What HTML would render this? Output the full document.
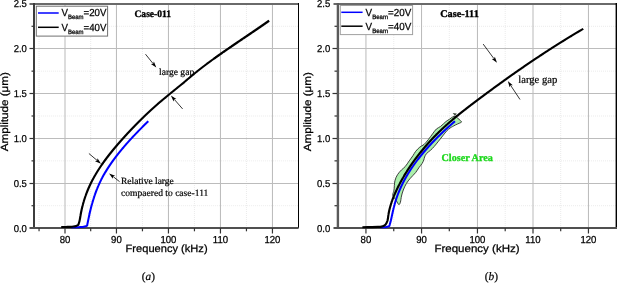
<!DOCTYPE html>
<html><head><meta charset="utf-8"><style>
html,body{margin:0;padding:0;background:#fff;width:617px;height:283px;overflow:hidden}
svg{display:block;will-change:transform;text-rendering:geometricPrecision}
</style></head><body>
<svg width="617" height="283" viewBox="0 0 617 283">
<rect width="617" height="283" fill="#fff"/>
<line x1="39.05" y1="5" x2="39.05" y2="227" stroke="#ebebeb" stroke-width="1" stroke-dasharray="1,1"/>
<line x1="90.70" y1="5" x2="90.70" y2="227" stroke="#ebebeb" stroke-width="1" stroke-dasharray="1,1"/>
<line x1="142.45" y1="5" x2="142.45" y2="227" stroke="#ebebeb" stroke-width="1" stroke-dasharray="1,1"/>
<line x1="194.45" y1="5" x2="194.45" y2="227" stroke="#ebebeb" stroke-width="1" stroke-dasharray="1,1"/>
<line x1="246.45" y1="5" x2="246.45" y2="227" stroke="#ebebeb" stroke-width="1" stroke-dasharray="1,1"/>
<line x1="34.9" y1="205.71" x2="298.6" y2="205.71" stroke="#ebebeb" stroke-width="1" stroke-dasharray="1,1"/>
<line x1="34.9" y1="160.86" x2="298.6" y2="160.86" stroke="#ebebeb" stroke-width="1" stroke-dasharray="1,1"/>
<line x1="34.9" y1="116.00" x2="298.6" y2="116.00" stroke="#ebebeb" stroke-width="1" stroke-dasharray="1,1"/>
<line x1="34.9" y1="71.15" x2="298.6" y2="71.15" stroke="#ebebeb" stroke-width="1" stroke-dasharray="1,1"/>
<line x1="34.9" y1="26.29" x2="298.6" y2="26.29" stroke="#ebebeb" stroke-width="1" stroke-dasharray="1,1"/>
<line x1="65.00" y1="5" x2="65.00" y2="227" stroke="#b9b9b9" stroke-width="1"/>
<line x1="116.45" y1="5" x2="116.45" y2="227" stroke="#b9b9b9" stroke-width="1"/>
<line x1="168.45" y1="5" x2="168.45" y2="227" stroke="#b9b9b9" stroke-width="1"/>
<line x1="220.45" y1="5" x2="220.45" y2="227" stroke="#b9b9b9" stroke-width="1"/>
<line x1="272.45" y1="5" x2="272.45" y2="227" stroke="#b9b9b9" stroke-width="1"/>
<line x1="33.9" y1="183.50" x2="298.6" y2="183.50" stroke="#bcbcbc" stroke-width="1"/>
<line x1="33.9" y1="138.50" x2="298.6" y2="138.50" stroke="#bcbcbc" stroke-width="1"/>
<line x1="33.9" y1="93.50" x2="298.6" y2="93.50" stroke="#bcbcbc" stroke-width="1"/>
<line x1="33.9" y1="48.50" x2="298.6" y2="48.50" stroke="#bcbcbc" stroke-width="1"/>
<line x1="29.5" y1="4" x2="298.6" y2="4" stroke="#6a6a6a" stroke-width="2"/>
<line x1="298.5" y1="3" x2="298.5" y2="228" stroke="#000" stroke-width="1"/>
<line x1="34" y1="3" x2="34" y2="229" stroke="#3c3c3c" stroke-width="2"/>
<line x1="29.5" y1="228" x2="298.6" y2="228" stroke="#505050" stroke-width="2"/>
<line x1="31.5" y1="205.71" x2="34" y2="205.71" stroke="#333" stroke-width="1.2"/>
<line x1="29.5" y1="183.50" x2="34" y2="183.50" stroke="#333" stroke-width="1.2"/>
<line x1="31.5" y1="160.86" x2="34" y2="160.86" stroke="#333" stroke-width="1.2"/>
<line x1="29.5" y1="138.50" x2="34" y2="138.50" stroke="#333" stroke-width="1.2"/>
<line x1="31.5" y1="116.00" x2="34" y2="116.00" stroke="#333" stroke-width="1.2"/>
<line x1="29.5" y1="93.50" x2="34" y2="93.50" stroke="#333" stroke-width="1.2"/>
<line x1="31.5" y1="71.15" x2="34" y2="71.15" stroke="#333" stroke-width="1.2"/>
<line x1="29.5" y1="48.50" x2="34" y2="48.50" stroke="#333" stroke-width="1.2"/>
<line x1="31.5" y1="26.29" x2="34" y2="26.29" stroke="#333" stroke-width="1.2"/>
<line x1="39.05" y1="228" x2="39.05" y2="231.3" stroke="#333" stroke-width="1.2"/>
<line x1="65.00" y1="228" x2="65.00" y2="233.5" stroke="#333" stroke-width="1.2"/>
<line x1="90.70" y1="228" x2="90.70" y2="231.3" stroke="#333" stroke-width="1.2"/>
<line x1="116.45" y1="228" x2="116.45" y2="233.5" stroke="#333" stroke-width="1.2"/>
<line x1="142.45" y1="228" x2="142.45" y2="231.3" stroke="#333" stroke-width="1.2"/>
<line x1="168.45" y1="228" x2="168.45" y2="233.5" stroke="#333" stroke-width="1.2"/>
<line x1="194.45" y1="228" x2="194.45" y2="231.3" stroke="#333" stroke-width="1.2"/>
<line x1="220.45" y1="228" x2="220.45" y2="233.5" stroke="#333" stroke-width="1.2"/>
<line x1="246.45" y1="228" x2="246.45" y2="231.3" stroke="#333" stroke-width="1.2"/>
<line x1="272.45" y1="228" x2="272.45" y2="233.5" stroke="#333" stroke-width="1.2"/>
<text transform="translate(26.90,231.64) scale(0.95,1)" x="0" y="0" text-anchor="end" style="font-family:'Liberation Sans',sans-serif;stroke:#000;stroke-width:0.25px;font-size:10.0px">0.0</text>
<text transform="translate(26.90,186.78) scale(0.95,1)" x="0" y="0" text-anchor="end" style="font-family:'Liberation Sans',sans-serif;stroke:#000;stroke-width:0.25px;font-size:10.0px">0.5</text>
<text transform="translate(26.90,141.93) scale(0.95,1)" x="0" y="0" text-anchor="end" style="font-family:'Liberation Sans',sans-serif;stroke:#000;stroke-width:0.25px;font-size:10.0px">1.0</text>
<text transform="translate(26.90,97.07) scale(0.95,1)" x="0" y="0" text-anchor="end" style="font-family:'Liberation Sans',sans-serif;stroke:#000;stroke-width:0.25px;font-size:10.0px">1.5</text>
<text transform="translate(26.90,52.22) scale(0.95,1)" x="0" y="0" text-anchor="end" style="font-family:'Liberation Sans',sans-serif;stroke:#000;stroke-width:0.25px;font-size:10.0px">2.0</text>
<text transform="translate(26.90,7.37) scale(0.95,1)" x="0" y="0" text-anchor="end" style="font-family:'Liberation Sans',sans-serif;stroke:#000;stroke-width:0.25px;font-size:10.0px">2.5</text>
<text transform="translate(65.00,242.9) scale(0.95,1)" x="0" y="0" text-anchor="middle" style="font-family:'Liberation Sans',sans-serif;stroke:#000;stroke-width:0.25px;font-size:10.1px">80</text>
<text transform="translate(116.45,242.9) scale(0.95,1)" x="0" y="0" text-anchor="middle" style="font-family:'Liberation Sans',sans-serif;stroke:#000;stroke-width:0.25px;font-size:10.1px">90</text>
<text transform="translate(168.45,242.9) scale(0.95,1)" x="0" y="0" text-anchor="middle" style="font-family:'Liberation Sans',sans-serif;stroke:#000;stroke-width:0.25px;font-size:10.1px">100</text>
<text transform="translate(220.45,242.9) scale(0.95,1)" x="0" y="0" text-anchor="middle" style="font-family:'Liberation Sans',sans-serif;stroke:#000;stroke-width:0.25px;font-size:10.1px">110</text>
<text transform="translate(272.45,242.9) scale(0.95,1)" x="0" y="0" text-anchor="middle" style="font-family:'Liberation Sans',sans-serif;stroke:#000;stroke-width:0.25px;font-size:10.1px">120</text>
<line x1="393.75" y1="5" x2="393.75" y2="227" stroke="#ebebeb" stroke-width="1" stroke-dasharray="1,1"/>
<line x1="449.30" y1="5" x2="449.30" y2="227" stroke="#ebebeb" stroke-width="1" stroke-dasharray="1,1"/>
<line x1="505.20" y1="5" x2="505.20" y2="227" stroke="#ebebeb" stroke-width="1" stroke-dasharray="1,1"/>
<line x1="560.70" y1="5" x2="560.70" y2="227" stroke="#ebebeb" stroke-width="1" stroke-dasharray="1,1"/>
<line x1="339.0" y1="205.71" x2="616.3" y2="205.71" stroke="#ebebeb" stroke-width="1" stroke-dasharray="1,1"/>
<line x1="339.0" y1="160.86" x2="616.3" y2="160.86" stroke="#ebebeb" stroke-width="1" stroke-dasharray="1,1"/>
<line x1="339.0" y1="116.00" x2="616.3" y2="116.00" stroke="#ebebeb" stroke-width="1" stroke-dasharray="1,1"/>
<line x1="339.0" y1="71.15" x2="616.3" y2="71.15" stroke="#ebebeb" stroke-width="1" stroke-dasharray="1,1"/>
<line x1="339.0" y1="26.29" x2="616.3" y2="26.29" stroke="#ebebeb" stroke-width="1" stroke-dasharray="1,1"/>
<line x1="365.94" y1="5" x2="365.94" y2="227" stroke="#b9b9b9" stroke-width="1"/>
<line x1="421.55" y1="5" x2="421.55" y2="227" stroke="#b9b9b9" stroke-width="1"/>
<line x1="477.45" y1="5" x2="477.45" y2="227" stroke="#b9b9b9" stroke-width="1"/>
<line x1="533.00" y1="5" x2="533.00" y2="227" stroke="#b9b9b9" stroke-width="1"/>
<line x1="588.45" y1="5" x2="588.45" y2="227" stroke="#b9b9b9" stroke-width="1"/>
<line x1="338.0" y1="183.50" x2="616.3" y2="183.50" stroke="#bcbcbc" stroke-width="1"/>
<line x1="338.0" y1="138.50" x2="616.3" y2="138.50" stroke="#bcbcbc" stroke-width="1"/>
<line x1="338.0" y1="93.50" x2="616.3" y2="93.50" stroke="#bcbcbc" stroke-width="1"/>
<line x1="338.0" y1="48.50" x2="616.3" y2="48.50" stroke="#bcbcbc" stroke-width="1"/>
<line x1="333.5" y1="4" x2="617" y2="4" stroke="#6a6a6a" stroke-width="2"/>
<line x1="616.3" y1="3" x2="616.3" y2="228" stroke="#000" stroke-width="1.4"/>
<line x1="337.9" y1="3" x2="337.9" y2="229" stroke="#5a5a5a" stroke-width="2.4"/>
<line x1="333.5" y1="228" x2="617" y2="228" stroke="#505050" stroke-width="2"/>
<line x1="334.5" y1="205.71" x2="337" y2="205.71" stroke="#333" stroke-width="1.2"/>
<line x1="332.5" y1="183.50" x2="337" y2="183.50" stroke="#333" stroke-width="1.2"/>
<line x1="334.5" y1="160.86" x2="337" y2="160.86" stroke="#333" stroke-width="1.2"/>
<line x1="332.5" y1="138.50" x2="337" y2="138.50" stroke="#333" stroke-width="1.2"/>
<line x1="334.5" y1="116.00" x2="337" y2="116.00" stroke="#333" stroke-width="1.2"/>
<line x1="332.5" y1="93.50" x2="337" y2="93.50" stroke="#333" stroke-width="1.2"/>
<line x1="334.5" y1="71.15" x2="337" y2="71.15" stroke="#333" stroke-width="1.2"/>
<line x1="332.5" y1="48.50" x2="337" y2="48.50" stroke="#333" stroke-width="1.2"/>
<line x1="334.5" y1="26.29" x2="337" y2="26.29" stroke="#333" stroke-width="1.2"/>
<line x1="365.94" y1="228" x2="365.94" y2="233.5" stroke="#333" stroke-width="1.2"/>
<line x1="393.75" y1="228" x2="393.75" y2="231.3" stroke="#333" stroke-width="1.2"/>
<line x1="421.55" y1="228" x2="421.55" y2="233.5" stroke="#333" stroke-width="1.2"/>
<line x1="449.30" y1="228" x2="449.30" y2="231.3" stroke="#333" stroke-width="1.2"/>
<line x1="477.45" y1="228" x2="477.45" y2="233.5" stroke="#333" stroke-width="1.2"/>
<line x1="505.20" y1="228" x2="505.20" y2="231.3" stroke="#333" stroke-width="1.2"/>
<line x1="533.00" y1="228" x2="533.00" y2="233.5" stroke="#333" stroke-width="1.2"/>
<line x1="560.70" y1="228" x2="560.70" y2="231.3" stroke="#333" stroke-width="1.2"/>
<line x1="588.45" y1="228" x2="588.45" y2="233.5" stroke="#333" stroke-width="1.2"/>
<text transform="translate(330.30,231.64) scale(0.95,1)" x="0" y="0" text-anchor="end" style="font-family:'Liberation Sans',sans-serif;stroke:#000;stroke-width:0.25px;font-size:10.0px">0.0</text>
<text transform="translate(330.30,186.78) scale(0.95,1)" x="0" y="0" text-anchor="end" style="font-family:'Liberation Sans',sans-serif;stroke:#000;stroke-width:0.25px;font-size:10.0px">0.5</text>
<text transform="translate(330.30,141.93) scale(0.95,1)" x="0" y="0" text-anchor="end" style="font-family:'Liberation Sans',sans-serif;stroke:#000;stroke-width:0.25px;font-size:10.0px">1.0</text>
<text transform="translate(330.30,97.07) scale(0.95,1)" x="0" y="0" text-anchor="end" style="font-family:'Liberation Sans',sans-serif;stroke:#000;stroke-width:0.25px;font-size:10.0px">1.5</text>
<text transform="translate(330.30,52.22) scale(0.95,1)" x="0" y="0" text-anchor="end" style="font-family:'Liberation Sans',sans-serif;stroke:#000;stroke-width:0.25px;font-size:10.0px">2.0</text>
<text transform="translate(330.30,7.37) scale(0.95,1)" x="0" y="0" text-anchor="end" style="font-family:'Liberation Sans',sans-serif;stroke:#000;stroke-width:0.25px;font-size:10.0px">2.5</text>
<text transform="translate(365.94,242.9) scale(0.95,1)" x="0" y="0" text-anchor="middle" style="font-family:'Liberation Sans',sans-serif;stroke:#000;stroke-width:0.25px;font-size:10.1px">80</text>
<text transform="translate(421.55,242.9) scale(0.95,1)" x="0" y="0" text-anchor="middle" style="font-family:'Liberation Sans',sans-serif;stroke:#000;stroke-width:0.25px;font-size:10.1px">90</text>
<text transform="translate(477.45,242.9) scale(0.95,1)" x="0" y="0" text-anchor="middle" style="font-family:'Liberation Sans',sans-serif;stroke:#000;stroke-width:0.25px;font-size:10.1px">100</text>
<text transform="translate(533.00,242.9) scale(0.95,1)" x="0" y="0" text-anchor="middle" style="font-family:'Liberation Sans',sans-serif;stroke:#000;stroke-width:0.25px;font-size:10.1px">110</text>
<text transform="translate(588.45,242.9) scale(0.95,1)" x="0" y="0" text-anchor="middle" style="font-family:'Liberation Sans',sans-serif;stroke:#000;stroke-width:0.25px;font-size:10.1px">120</text>
<text x="166.60" y="252.10" text-anchor="middle" style="font-family:'Liberation Sans',sans-serif;stroke:#000;stroke-width:0.25px;font-size:10.5px" textLength="82" lengthAdjust="spacingAndGlyphs">Frequency (kHz)</text>
<text x="477.00" y="252.10" text-anchor="middle" style="font-family:'Liberation Sans',sans-serif;stroke:#000;stroke-width:0.25px;font-size:10.5px" textLength="85.2" lengthAdjust="spacingAndGlyphs">Frequency (kHz)</text>
<g transform="translate(8.2,111.7) rotate(-90)"><text x="0" y="0" text-anchor="middle" style="font-family:'Liberation Sans',sans-serif;stroke:#000;stroke-width:0.25px;font-size:10.5px" textLength="79" lengthAdjust="spacingAndGlyphs">Amplitude (μm)</text></g>
<g transform="translate(311.0,111.7) rotate(-90)"><text x="0" y="0" text-anchor="middle" style="font-family:'Liberation Sans',sans-serif;stroke:#000;stroke-width:0.25px;font-size:10.5px" textLength="79" lengthAdjust="spacingAndGlyphs">Amplitude (μm)</text></g>
<text x="148.40" y="280.30" text-anchor="middle" style="font-family:'Liberation Serif',serif;stroke:#000;stroke-width:0.2px;font-size:11.3px">(<tspan style="font-style:italic">a</tspan>)</text>
<text x="491.40" y="280.30" text-anchor="middle" style="font-family:'Liberation Serif',serif;stroke:#000;stroke-width:0.2px;font-size:11.4px">(<tspan style="font-style:italic">b</tspan>)</text>
<text x="134.50" y="16.70" text-anchor="start" style="font-family:'Liberation Serif',serif;stroke:#000;stroke-width:0.2px;font-size:10px;font-weight:bold;stroke-width:0.35px" textLength="36.5" lengthAdjust="spacingAndGlyphs">Case-011</text>
<text x="440.20" y="17.00" text-anchor="start" style="font-family:'Liberation Serif',serif;stroke:#000;stroke-width:0.2px;font-size:10.2px;font-weight:bold;stroke-width:0.35px" textLength="38.6" lengthAdjust="spacingAndGlyphs">Case-111</text>
<text x="159.00" y="74.80" text-anchor="start" style="font-family:'Liberation Serif',serif;stroke:#000;stroke-width:0.2px;font-size:9.5px" textLength="35.2" lengthAdjust="spacingAndGlyphs">large gap</text>
<text x="518.30" y="83.00" text-anchor="start" style="font-family:'Liberation Serif',serif;stroke:#000;stroke-width:0.2px;font-size:10.8px" textLength="39.0" lengthAdjust="spacingAndGlyphs">large gap</text>
<text x="121.00" y="183.50" text-anchor="start" style="font-family:'Liberation Serif',serif;stroke:#000;stroke-width:0.2px;font-size:9.6px" textLength="52.8" lengthAdjust="spacingAndGlyphs">Relative large</text>
<text x="121.00" y="195.50" text-anchor="start" style="font-family:'Liberation Serif',serif;stroke:#000;stroke-width:0.2px;font-size:9.6px" textLength="87.4" lengthAdjust="spacingAndGlyphs">compaered to case-111</text>
<text x="441.50" y="160.80" text-anchor="start" style="font-family:'Liberation Serif',serif;stroke:#000;stroke-width:0.2px;font-size:10.4px;font-weight:bold;fill:#1ed81e;stroke:#1ed81e;stroke-width:0.3px" textLength="51.4" lengthAdjust="spacingAndGlyphs">Closer Area</text>
<line x1="145.50" y1="54.20" x2="153.04" y2="63.55" stroke="#000" stroke-width="0.8"/>
<path d="M156.30,67.60 L150.93,63.97 L153.16,63.71 L153.89,61.58 Z" fill="#000"/>
<line x1="182.60" y1="108.90" x2="174.32" y2="99.42" stroke="#000" stroke-width="0.8"/>
<path d="M170.90,95.50 L176.41,98.92 L174.19,99.27 L173.55,101.42 Z" fill="#000"/>
<line x1="88.90" y1="153.50" x2="97.02" y2="160.35" stroke="#000" stroke-width="0.8"/>
<path d="M101.00,163.70 L95.03,161.16 L97.18,160.48 L97.48,158.25 Z" fill="#000"/>
<line x1="119.60" y1="181.70" x2="113.18" y2="176.62" stroke="#000" stroke-width="0.8"/>
<path d="M109.10,173.40 L115.14,175.75 L113.02,176.50 L112.79,178.74 Z" fill="#000"/>
<line x1="483.20" y1="44.10" x2="493.91" y2="58.62" stroke="#000" stroke-width="0.8"/>
<path d="M497.00,62.80 L491.79,58.94 L494.03,58.78 L494.85,56.68 Z" fill="#000"/>
<line x1="520.00" y1="99.50" x2="510.67" y2="85.43" stroke="#000" stroke-width="0.8"/>
<path d="M507.80,81.10 L512.81,85.22 L510.56,85.27 L509.64,87.32 Z" fill="#000"/>
<path d="M455.00,116.20 C455.85,116.40 456.83,117.50 457.70,118.20 C458.57,118.90 459.55,119.77 460.20,120.40 C460.85,121.03 461.78,121.52 461.60,122.00 C461.42,122.48 460.13,122.80 459.10,123.30 C458.07,123.80 456.50,124.45 455.40,125.00 C454.30,125.55 453.38,126.10 452.50,126.60 C451.62,127.10 451.02,127.33 450.10,128.00 C449.18,128.67 448.23,129.28 447.00,130.60 C445.77,131.92 444.12,134.13 442.70,135.90 C441.28,137.67 439.92,139.43 438.50,141.20 C437.08,142.97 435.52,145.00 434.20,146.50 C432.88,148.00 431.88,149.02 430.60,150.20 C429.32,151.38 427.50,152.47 426.50,153.60 C425.50,154.73 425.05,155.93 424.60,157.00 C424.15,158.07 424.23,158.90 423.80,160.00 C423.37,161.10 422.83,162.30 422.00,163.60 C421.17,164.90 419.87,166.30 418.80,167.80 C417.73,169.30 417.02,170.85 415.60,172.60 C414.18,174.35 411.85,176.47 410.30,178.30 C408.75,180.13 407.47,181.65 406.30,183.60 C405.13,185.55 404.10,187.93 403.30,190.00 C402.50,192.07 401.98,193.97 401.50,196.00 C401.02,198.03 400.85,200.77 400.40,202.20 C399.95,203.63 399.45,204.80 398.80,204.60 C398.15,204.40 397.42,202.35 396.50,201.00 C395.58,199.65 393.92,197.63 393.30,196.50 C392.68,195.37 392.68,195.28 392.80,194.20 C392.92,193.12 393.65,192.22 394.00,190.00 C394.35,187.78 394.32,183.45 394.90,180.90 C395.48,178.35 396.40,176.53 397.50,174.70 C398.60,172.87 400.22,171.25 401.50,169.90 C402.78,168.55 403.92,168.10 405.20,166.60 C406.48,165.10 407.90,162.73 409.20,160.90 C410.50,159.07 411.93,157.18 413.00,155.60 C414.07,154.02 414.47,152.82 415.60,151.40 C416.73,149.98 418.40,148.25 419.80,147.10 C421.20,145.95 422.57,145.77 424.00,144.50 C425.43,143.23 426.97,141.28 428.40,139.50 C429.83,137.72 431.27,135.55 432.60,133.80 C433.93,132.05 435.07,130.23 436.40,129.00 C437.73,127.77 439.02,127.63 440.60,126.40 C442.18,125.17 444.42,122.80 445.90,121.60 C447.38,120.40 448.38,119.97 449.50,119.20 C450.62,118.43 451.68,117.50 452.60,117.00 C453.52,116.50 454.15,116.00 455.00,116.20 Z" fill="#abf0ab" stroke="#2a2a2a" stroke-width="0.9" stroke-linejoin="round"/>
<path d="M452.6,113.0 L456.8,113.5 L455.0,115.8 Z" fill="#3c4a3c"/>
<path d="M71.00,227.20 C71.90,227.20 74.80,227.23 76.40,227.20 C78.00,227.17 79.37,227.08 80.60,227.00 C81.83,226.92 82.97,226.82 83.80,226.70 C84.63,226.58 85.05,226.48 85.60,226.30 C86.15,226.12 86.82,225.88 87.10,225.60 C87.38,225.32 87.23,224.93 87.30,224.60 C87.36,224.27 87.43,223.93 87.50,223.60 C87.57,223.27 87.63,222.93 87.70,222.60 C87.77,222.27 87.84,221.93 87.90,221.60 C87.97,221.27 88.04,220.93 88.11,220.60 C88.18,220.27 88.25,219.93 88.32,219.60 C88.39,219.27 88.46,218.93 88.53,218.60 C88.60,218.27 88.67,217.93 88.74,217.60 C88.81,217.27 88.88,216.93 88.95,216.60 C89.03,216.27 89.10,215.93 89.17,215.60 C89.25,215.27 89.32,214.93 89.39,214.60 C89.47,214.27 89.54,213.93 89.62,213.60 C89.69,213.27 89.77,212.93 89.85,212.60 C89.92,212.27 90.00,211.93 90.08,211.60 C90.16,211.27 90.24,210.93 90.32,210.60 C90.40,210.27 90.48,209.93 90.56,209.60 C90.64,209.27 90.73,208.93 90.81,208.60 C90.89,208.27 90.98,207.93 91.06,207.60 C91.15,207.27 91.23,206.93 91.32,206.60 C91.41,206.27 91.49,205.93 91.58,205.60 C91.67,205.27 91.76,204.93 91.85,204.60 C91.94,204.27 92.03,203.93 92.13,203.60 C92.22,203.27 92.31,202.93 92.41,202.60 C92.50,202.27 92.60,201.93 92.70,201.60 C92.80,201.27 92.89,200.93 92.99,200.60 C93.09,200.27 93.19,199.93 93.30,199.60 C93.40,199.27 93.50,198.93 93.61,198.60 C93.71,198.27 93.82,197.93 93.93,197.60 C94.03,197.27 94.14,196.93 94.25,196.60 C94.36,196.27 94.47,195.93 94.59,195.60 C94.70,195.27 94.81,194.93 94.93,194.60 C95.04,194.27 95.16,193.93 95.28,193.60 C95.40,193.27 95.52,192.93 95.64,192.60 C95.76,192.27 95.89,191.93 96.01,191.60 C96.14,191.27 96.26,190.93 96.39,190.60 C96.52,190.27 96.65,189.93 96.78,189.60 C96.91,189.27 97.04,188.93 97.18,188.60 C97.31,188.27 97.45,187.93 97.59,187.60 C97.73,187.27 97.87,186.93 98.01,186.60 C98.15,186.27 98.29,185.93 98.44,185.60 C98.58,185.27 98.73,184.93 98.88,184.60 C99.03,184.27 99.18,183.93 99.33,183.60 C99.49,183.27 99.64,182.93 99.80,182.60 C99.96,182.27 100.11,181.93 100.27,181.60 C100.44,181.27 100.60,180.93 100.76,180.60 C100.93,180.27 101.10,179.93 101.26,179.60 C101.43,179.27 101.60,178.93 101.78,178.60 C101.95,178.27 102.13,177.93 102.30,177.60 C102.48,177.27 102.66,176.93 102.84,176.60 C103.02,176.27 103.21,175.93 103.39,175.60 C103.58,175.27 103.76,174.93 103.95,174.60 C104.14,174.27 104.33,173.93 104.53,173.60 C104.72,173.27 104.92,172.93 105.11,172.60 C105.31,172.27 105.51,171.93 105.71,171.60 C105.91,171.27 106.12,170.93 106.32,170.60 C106.52,170.27 106.73,169.93 106.94,169.60 C107.15,169.27 107.36,168.93 107.57,168.60 C107.78,168.27 108.00,167.93 108.21,167.60 C108.43,167.27 108.65,166.93 108.87,166.60 C109.09,166.27 109.31,165.93 109.53,165.60 C109.76,165.27 109.98,164.93 110.21,164.60 C110.44,164.27 110.67,163.93 110.90,163.60 C111.13,163.27 111.36,162.93 111.59,162.60 C111.83,162.27 112.06,161.93 112.30,161.60 C112.54,161.27 112.78,160.93 113.02,160.60 C113.26,160.27 113.50,159.93 113.75,159.60 C113.99,159.27 114.24,158.93 114.49,158.60 C114.73,158.27 114.98,157.93 115.23,157.60 C115.49,157.27 115.74,156.93 115.99,156.60 C116.25,156.27 116.50,155.93 116.76,155.60 C117.02,155.27 117.28,154.93 117.54,154.60 C117.80,154.27 118.06,153.93 118.33,153.60 C118.59,153.27 118.86,152.93 119.12,152.60 C119.39,152.27 119.66,151.93 119.93,151.60 C120.20,151.27 120.47,150.93 120.75,150.60 C121.02,150.27 121.29,149.93 121.57,149.60 C121.85,149.27 122.13,148.93 122.41,148.60 C122.68,148.27 122.97,147.93 123.25,147.60 C123.53,147.27 123.81,146.93 124.10,146.60 C124.39,146.27 124.67,145.93 124.96,145.60 C125.25,145.27 125.54,144.93 125.83,144.60 C126.12,144.27 126.41,143.93 126.71,143.60 C127.00,143.27 127.30,142.93 127.59,142.60 C127.89,142.27 128.19,141.93 128.49,141.60 C128.79,141.27 129.09,140.93 129.39,140.60 C129.69,140.27 129.99,139.93 130.30,139.60 C130.60,139.27 130.91,138.93 131.22,138.60 C131.52,138.27 131.83,137.93 132.14,137.60 C132.45,137.27 132.76,136.93 133.08,136.60 C133.39,136.27 133.70,135.93 134.02,135.60 C134.33,135.27 134.65,134.93 134.97,134.60 C135.28,134.27 135.60,133.93 135.92,133.60 C136.24,133.27 136.56,132.93 136.88,132.60 C137.21,132.27 137.53,131.93 137.85,131.60 C138.18,131.27 138.51,130.93 138.83,130.60 C139.16,130.27 139.49,129.93 139.82,129.60 C140.15,129.27 140.48,128.93 140.81,128.60 C141.14,128.27 141.47,127.93 141.80,127.60 C142.14,127.27 142.47,126.93 142.81,126.60 C143.14,126.27 143.48,125.93 143.82,125.60 C144.16,125.27 144.50,124.93 144.84,124.60 C145.18,124.27 145.52,123.93 145.86,123.60 C146.20,123.27 146.54,122.93 146.89,122.60 C147.23,122.27 147.68,121.83 147.92,121.60 C148.16,121.37 148.27,121.27 148.34,121.20" fill="none" stroke="#0000ff" stroke-width="2.05" stroke-linejoin="round" stroke-linecap="butt"/>
<path d="M61.20,227.00 C62.00,226.99 64.53,226.97 66.00,226.95 C67.47,226.92 68.75,226.92 70.00,226.85 C71.25,226.78 72.47,226.71 73.50,226.55 C74.53,226.39 75.42,226.16 76.20,225.90 C76.98,225.64 77.77,225.32 78.16,225.00 C78.56,224.68 78.45,224.33 78.58,224.00 C78.71,223.67 78.83,223.33 78.94,223.00 C79.05,222.67 79.15,222.33 79.24,222.00 C79.33,221.67 79.42,221.33 79.50,221.00 C79.58,220.67 79.65,220.33 79.72,220.00 C79.79,219.67 79.85,219.33 79.91,219.00 C79.97,218.67 80.03,218.33 80.09,218.00 C80.14,217.67 80.20,217.33 80.25,217.00 C80.31,216.67 80.36,216.33 80.42,216.00 C80.47,215.67 80.53,215.33 80.59,215.00 C80.65,214.67 80.71,214.33 80.77,214.00 C80.83,213.67 80.89,213.33 80.95,213.00 C81.02,212.67 81.08,212.33 81.15,212.00 C81.22,211.67 81.29,211.33 81.35,211.00 C81.42,210.67 81.50,210.33 81.57,210.00 C81.64,209.67 81.71,209.33 81.79,209.00 C81.87,208.67 81.94,208.33 82.02,208.00 C82.10,207.67 82.18,207.33 82.26,207.00 C82.34,206.67 82.42,206.33 82.51,206.00 C82.59,205.67 82.68,205.33 82.77,205.00 C82.85,204.67 82.94,204.33 83.03,204.00 C83.12,203.67 83.22,203.33 83.31,203.00 C83.40,202.67 83.50,202.33 83.60,202.00 C83.69,201.67 83.79,201.33 83.89,201.00 C83.99,200.67 84.09,200.33 84.20,200.00 C84.30,199.67 84.41,199.33 84.51,199.00 C84.62,198.67 84.73,198.33 84.84,198.00 C84.95,197.67 85.06,197.33 85.17,197.00 C85.28,196.67 85.40,196.33 85.52,196.00 C85.63,195.67 85.75,195.33 85.87,195.00 C85.99,194.67 86.11,194.33 86.24,194.00 C86.36,193.67 86.49,193.33 86.61,193.00 C86.74,192.67 86.87,192.33 87.00,192.00 C87.13,191.67 87.26,191.33 87.40,191.00 C87.53,190.67 87.67,190.33 87.80,190.00 C87.94,189.67 88.08,189.33 88.22,189.00 C88.36,188.67 88.51,188.33 88.65,188.00 C88.80,187.67 88.94,187.33 89.09,187.00 C89.24,186.67 89.39,186.33 89.54,186.00 C89.69,185.67 89.85,185.33 90.00,185.00 C90.16,184.67 90.32,184.33 90.48,184.00 C90.64,183.67 90.80,183.33 90.96,183.00 C91.13,182.67 91.29,182.33 91.46,182.00 C91.63,181.67 91.80,181.33 91.97,181.00 C92.14,180.67 92.31,180.33 92.49,180.00 C92.67,179.67 92.84,179.33 93.02,179.00 C93.20,178.67 93.38,178.33 93.57,178.00 C93.75,177.67 93.93,177.33 94.12,177.00 C94.31,176.67 94.50,176.33 94.69,176.00 C94.88,175.67 95.07,175.33 95.27,175.00 C95.46,174.67 95.66,174.33 95.86,174.00 C96.06,173.67 96.26,173.33 96.46,173.00 C96.66,172.67 96.86,172.33 97.07,172.00 C97.27,171.67 97.48,171.33 97.69,171.00 C97.90,170.67 98.11,170.33 98.32,170.00 C98.54,169.67 98.75,169.33 98.97,169.00 C99.18,168.67 99.40,168.33 99.62,168.00 C99.84,167.67 100.06,167.33 100.28,167.00 C100.51,166.67 100.73,166.33 100.96,166.00 C101.18,165.67 101.41,165.33 101.64,165.00 C101.87,164.67 102.10,164.33 102.34,164.00 C102.57,163.67 102.80,163.33 103.04,163.00 C103.28,162.67 103.51,162.33 103.75,162.00 C103.99,161.67 104.23,161.33 104.48,161.00 C104.72,160.67 104.96,160.33 105.21,160.00 C105.45,159.67 105.70,159.33 105.95,159.00 C106.20,158.67 106.45,158.33 106.70,158.00 C106.95,157.67 107.20,157.33 107.46,157.00 C107.71,156.67 107.97,156.33 108.22,156.00 C108.48,155.67 108.74,155.33 109.00,155.00 C109.26,154.67 109.52,154.33 109.78,154.00 C110.05,153.67 110.31,153.33 110.58,153.00 C110.84,152.67 111.11,152.33 111.38,152.00 C111.65,151.67 111.92,151.33 112.19,151.00 C112.46,150.67 112.73,150.33 113.00,150.00 C113.28,149.67 113.55,149.33 113.83,149.00 C114.10,148.67 114.38,148.33 114.66,148.00 C114.94,147.67 115.22,147.33 115.50,147.00 C115.78,146.67 116.06,146.33 116.35,146.00 C116.63,145.67 116.91,145.33 117.20,145.00 C117.49,144.67 117.77,144.33 118.06,144.00 C118.35,143.67 118.64,143.33 118.93,143.00 C119.22,142.67 119.51,142.33 119.81,142.00 C120.10,141.67 120.39,141.33 120.69,141.00 C120.98,140.67 121.28,140.33 121.58,140.00 C121.87,139.67 122.17,139.33 122.47,139.00 C122.77,138.67 123.07,138.33 123.37,138.00 C123.67,137.67 123.98,137.33 124.28,137.00 C124.58,136.67 124.89,136.33 125.19,136.00 C125.50,135.67 125.80,135.33 126.11,135.00 C126.42,134.67 126.73,134.33 127.04,134.00 C127.34,133.67 127.66,133.33 127.97,133.00 C128.28,132.67 128.59,132.33 128.90,132.00 C129.21,131.67 129.53,131.33 129.84,131.00 C130.16,130.67 130.47,130.33 130.79,130.00 C131.11,129.67 131.42,129.33 131.74,129.00 C132.06,128.67 132.38,128.33 132.70,128.00 C133.02,127.67 133.34,127.33 133.66,127.00 C133.98,126.67 134.30,126.33 134.63,126.00 C134.95,125.67 135.28,125.33 135.60,125.00 C135.93,124.67 136.25,124.33 136.58,124.00 C136.91,123.67 137.24,123.33 137.57,123.00 C137.90,122.67 138.23,122.33 138.56,122.00 C138.89,121.67 139.23,121.33 139.56,121.00 C139.89,120.67 140.23,120.33 140.57,120.00 C140.90,119.67 141.24,119.33 141.58,119.00 C141.92,118.67 142.26,118.33 142.60,118.00 C142.94,117.67 143.28,117.33 143.63,117.00 C143.97,116.67 144.32,116.33 144.66,116.00 C145.01,115.67 145.36,115.33 145.71,115.00 C146.06,114.67 146.41,114.33 146.76,114.00 C147.11,113.67 147.47,113.33 147.82,113.00 C148.18,112.67 148.53,112.33 148.89,112.00 C149.25,111.67 149.61,111.33 149.97,111.00 C150.33,110.67 150.69,110.33 151.05,110.00 C151.42,109.67 151.78,109.33 152.15,109.00 C152.52,108.67 152.88,108.33 153.25,108.00 C153.62,107.67 154.00,107.33 154.37,107.00 C154.74,106.67 155.12,106.33 155.49,106.00 C155.87,105.67 156.25,105.33 156.63,105.00 C157.01,104.67 157.39,104.33 157.77,104.00 C158.15,103.67 158.54,103.33 158.93,103.00 C159.31,102.67 159.70,102.33 160.09,102.00 C160.48,101.67 160.87,101.33 161.27,101.00 C161.66,100.67 162.05,100.33 162.45,100.00 C162.85,99.67 163.24,99.33 163.64,99.00 C164.04,98.67 164.44,98.33 164.84,98.00 C165.25,97.67 165.65,97.33 166.05,97.00 C166.46,96.67 166.86,96.33 167.27,96.00 C167.67,95.67 168.08,95.33 168.49,95.00 C168.89,94.67 169.30,94.33 169.71,94.00 C170.12,93.67 170.53,93.33 170.94,93.00 C171.34,92.67 171.75,92.33 172.16,92.00 C172.57,91.67 172.98,91.33 173.39,91.00 C173.80,90.67 174.21,90.33 174.63,90.00 C175.04,89.67 175.45,89.33 175.86,89.00 C176.27,88.67 176.68,88.33 177.09,88.00 C177.49,87.67 177.90,87.33 178.31,87.00 C178.72,86.67 179.13,86.33 179.54,86.00 C179.95,85.67 180.35,85.33 180.76,85.00 C181.16,84.67 181.57,84.33 181.97,84.00 C182.38,83.67 182.78,83.33 183.18,83.00 C183.59,82.67 183.99,82.33 184.39,82.00 C184.79,81.67 185.19,81.33 185.59,81.00 C185.98,80.67 186.38,80.33 186.78,80.00 C187.17,79.67 187.57,79.33 187.97,79.00 C188.36,78.67 188.76,78.33 189.15,78.00 C189.55,77.67 189.94,77.33 190.34,77.00 C190.74,76.67 191.13,76.33 191.53,76.00 C191.93,75.67 192.33,75.33 192.73,75.00 C193.13,74.67 193.53,74.33 193.94,74.00 C194.34,73.67 194.75,73.33 195.16,73.00 C195.56,72.67 195.97,72.33 196.39,72.00 C196.80,71.67 197.21,71.33 197.63,71.00 C198.05,70.67 198.47,70.33 198.89,70.00 C199.31,69.67 199.74,69.33 200.16,69.00 C200.59,68.67 201.02,68.33 201.45,68.00 C201.88,67.67 202.31,67.33 202.74,67.00 C203.18,66.67 203.61,66.33 204.05,66.00 C204.49,65.67 204.93,65.33 205.37,65.00 C205.81,64.67 206.26,64.33 206.70,64.00 C207.15,63.67 207.60,63.33 208.04,63.00 C208.49,62.67 208.94,62.33 209.40,62.00 C209.85,61.67 210.30,61.33 210.76,61.00 C211.21,60.67 211.67,60.33 212.13,60.00 C212.59,59.67 213.05,59.33 213.51,59.00 C213.97,58.67 214.43,58.33 214.90,58.00 C215.36,57.67 215.83,57.33 216.30,57.00 C216.76,56.67 217.23,56.33 217.70,56.00 C218.17,55.67 218.64,55.33 219.11,55.00 C219.59,54.67 220.06,54.33 220.53,54.00 C221.01,53.67 221.48,53.33 221.96,53.00 C222.44,52.67 222.92,52.33 223.39,52.00 C223.87,51.67 224.35,51.33 224.83,51.00 C225.31,50.67 225.79,50.33 226.28,50.00 C226.76,49.67 227.24,49.33 227.73,49.00 C228.21,48.67 228.69,48.33 229.18,48.00 C229.66,47.67 230.15,47.33 230.64,47.00 C231.12,46.67 231.61,46.33 232.10,46.00 C232.59,45.67 233.07,45.33 233.56,45.00 C234.05,44.67 234.54,44.33 235.03,44.00 C235.52,43.67 236.01,43.33 236.50,43.00 C236.99,42.67 237.48,42.33 237.97,42.00 C238.47,41.67 238.96,41.33 239.45,41.00 C239.94,40.67 240.43,40.33 240.93,40.00 C241.42,39.67 241.91,39.33 242.40,39.00 C242.90,38.67 243.39,38.33 243.88,38.00 C244.37,37.67 244.87,37.33 245.36,37.00 C245.85,36.67 246.34,36.33 246.84,36.00 C247.33,35.67 247.82,35.33 248.31,35.00 C248.80,34.67 249.30,34.33 249.79,34.00 C250.28,33.67 250.77,33.33 251.26,33.00 C251.75,32.67 252.24,32.33 252.74,32.00 C253.23,31.67 253.72,31.33 254.21,31.00 C254.70,30.67 255.18,30.33 255.67,30.00 C256.16,29.67 256.65,29.33 257.14,29.00 C257.63,28.67 258.11,28.33 258.60,28.00 C259.09,27.67 259.57,27.33 260.06,27.00 C260.54,26.67 261.03,26.33 261.51,26.00 C261.99,25.67 262.48,25.33 262.96,25.00 C263.44,24.67 263.92,24.33 264.40,24.00 C264.88,23.67 265.36,23.33 265.84,23.00 C266.32,22.67 266.79,22.33 267.27,22.00 C267.75,21.67 268.39,21.22 268.70,21.00 C269.00,20.78 269.05,20.75 269.12,20.70" fill="none" stroke="#000" stroke-width="2.15" stroke-linejoin="round" stroke-linecap="butt"/>
<path d="M379.90,227.30 C380.75,227.28 383.77,227.23 385.00,227.15 C386.23,227.07 386.59,226.99 387.30,226.80 C388.01,226.61 388.88,226.30 389.26,226.00 C389.64,225.70 389.48,225.33 389.59,225.00 C389.69,224.67 389.80,224.33 389.89,224.00 C389.99,223.67 390.09,223.33 390.18,223.00 C390.28,222.67 390.37,222.33 390.46,222.00 C390.55,221.67 390.63,221.33 390.72,221.00 C390.80,220.67 390.88,220.33 390.96,220.00 C391.05,219.67 391.12,219.33 391.20,219.00 C391.28,218.67 391.36,218.33 391.43,218.00 C391.51,217.67 391.58,217.33 391.65,217.00 C391.73,216.67 391.80,216.33 391.87,216.00 C391.94,215.67 392.01,215.33 392.08,215.00 C392.16,214.67 392.23,214.33 392.30,214.00 C392.37,213.67 392.44,213.33 392.51,213.00 C392.58,212.67 392.66,212.33 392.73,212.00 C392.80,211.67 392.88,211.33 392.95,211.00 C393.02,210.67 393.10,210.33 393.18,210.00 C393.25,209.67 393.33,209.33 393.41,209.00 C393.49,208.67 393.57,208.33 393.66,208.00 C393.74,207.67 393.82,207.33 393.91,207.00 C393.99,206.67 394.08,206.33 394.17,206.00 C394.26,205.67 394.34,205.33 394.44,205.00 C394.53,204.67 394.62,204.33 394.71,204.00 C394.81,203.67 394.90,203.33 395.00,203.00 C395.10,202.67 395.20,202.33 395.30,202.00 C395.40,201.67 395.50,201.33 395.60,201.00 C395.70,200.67 395.81,200.33 395.92,200.00 C396.02,199.67 396.13,199.33 396.24,199.00 C396.35,198.67 396.46,198.33 396.57,198.00 C396.69,197.67 396.80,197.33 396.92,197.00 C397.04,196.67 397.15,196.33 397.27,196.00 C397.39,195.67 397.52,195.33 397.64,195.00 C397.76,194.67 397.89,194.33 398.01,194.00 C398.14,193.67 398.27,193.33 398.40,193.00 C398.53,192.67 398.66,192.33 398.80,192.00 C398.93,191.67 399.07,191.33 399.21,191.00 C399.34,190.67 399.48,190.33 399.63,190.00 C399.77,189.67 399.91,189.33 400.06,189.00 C400.20,188.67 400.35,188.33 400.50,188.00 C400.65,187.67 400.80,187.33 400.95,187.00 C401.11,186.67 401.26,186.33 401.42,186.00 C401.58,185.67 401.73,185.33 401.90,185.00 C402.06,184.67 402.22,184.33 402.38,184.00 C402.55,183.67 402.71,183.33 402.88,183.00 C403.05,182.67 403.22,182.33 403.39,182.00 C403.56,181.67 403.74,181.33 403.91,181.00 C404.09,180.67 404.27,180.33 404.45,180.00 C404.63,179.67 404.81,179.33 404.99,179.00 C405.17,178.67 405.36,178.33 405.55,178.00 C405.73,177.67 405.92,177.33 406.11,177.00 C406.30,176.67 406.50,176.33 406.69,176.00 C406.89,175.67 407.08,175.33 407.28,175.00 C407.48,174.67 407.68,174.33 407.88,174.00 C408.08,173.67 408.29,173.33 408.49,173.00 C408.70,172.67 408.90,172.33 409.11,172.00 C409.32,171.67 409.53,171.33 409.75,171.00 C409.96,170.67 410.17,170.33 410.39,170.00 C410.61,169.67 410.83,169.33 411.05,169.00 C411.27,168.67 411.49,168.33 411.71,168.00 C411.94,167.67 412.16,167.33 412.39,167.00 C412.62,166.67 412.85,166.33 413.08,166.00 C413.31,165.67 413.55,165.33 413.78,165.00 C414.02,164.67 414.25,164.33 414.49,164.00 C414.73,163.67 414.97,163.33 415.21,163.00 C415.46,162.67 415.70,162.33 415.95,162.00 C416.19,161.67 416.44,161.33 416.69,161.00 C416.94,160.67 417.19,160.33 417.44,160.00 C417.70,159.67 417.95,159.33 418.21,159.00 C418.47,158.67 418.73,158.33 418.99,158.00 C419.25,157.67 419.51,157.33 419.77,157.00 C420.04,156.67 420.30,156.33 420.57,156.00 C420.84,155.67 421.11,155.33 421.38,155.00 C421.65,154.67 421.93,154.33 422.20,154.00 C422.48,153.67 422.75,153.33 423.03,153.00 C423.31,152.67 423.59,152.33 423.87,152.00 C424.16,151.67 424.44,151.33 424.73,151.00 C425.01,150.67 425.30,150.33 425.59,150.00 C425.88,149.67 426.17,149.33 426.46,149.00 C426.76,148.67 427.05,148.33 427.35,148.00 C427.64,147.67 427.94,147.33 428.24,147.00 C428.54,146.67 428.85,146.33 429.15,146.00 C429.45,145.67 429.76,145.33 430.07,145.00 C430.37,144.67 430.68,144.33 430.99,144.00 C431.30,143.67 431.62,143.33 431.93,143.00 C432.25,142.67 432.56,142.33 432.88,142.00 C433.20,141.67 433.52,141.33 433.84,141.00 C434.16,140.67 434.48,140.33 434.81,140.00 C435.13,139.67 435.46,139.33 435.79,139.00 C436.12,138.67 436.45,138.33 436.78,138.00 C437.11,137.67 437.45,137.33 437.78,137.00 C438.12,136.67 438.46,136.33 438.79,136.00 C439.13,135.67 439.47,135.33 439.82,135.00 C440.16,134.67 440.50,134.33 440.85,134.00 C441.20,133.67 441.54,133.33 441.89,133.00 C442.24,132.67 442.59,132.33 442.95,132.00 C443.30,131.67 443.66,131.33 444.01,131.00 C444.37,130.67 444.73,130.33 445.09,130.00 C445.45,129.67 445.81,129.33 446.17,129.00 C446.54,128.67 446.90,128.33 447.27,128.00 C447.64,127.67 448.00,127.33 448.38,127.00 C448.75,126.67 449.12,126.33 449.49,126.00 C449.87,125.67 450.24,125.33 450.62,125.00 C451.00,124.67 451.38,124.33 451.76,124.00 C452.14,123.67 452.52,123.33 452.90,123.00 C453.29,122.67 453.71,122.30 454.06,122.00 C454.41,121.70 454.84,121.33 455.00,121.20" fill="none" stroke="#0000ff" stroke-width="2.05" stroke-linejoin="round" stroke-linecap="butt"/>
<path d="M362.40,227.30 C364.00,227.27 369.40,227.17 372.00,227.10 C374.60,227.03 376.42,226.98 378.00,226.90 C379.58,226.82 380.50,226.78 381.50,226.60 C382.50,226.42 383.35,226.12 384.00,225.80 C384.65,225.48 385.04,225.05 385.39,224.70 C385.74,224.35 385.88,224.03 386.10,223.70 C386.31,223.37 386.49,223.03 386.66,222.70 C386.83,222.37 386.97,222.03 387.10,221.70 C387.23,221.37 387.34,221.03 387.44,220.70 C387.53,220.37 387.62,220.03 387.69,219.70 C387.77,219.37 387.83,219.03 387.89,218.70 C387.94,218.37 387.99,218.03 388.04,217.70 C388.08,217.37 388.13,217.03 388.17,216.70 C388.21,216.37 388.25,216.03 388.30,215.70 C388.35,215.37 388.39,215.03 388.45,214.70 C388.50,214.37 388.55,214.03 388.61,213.70 C388.67,213.37 388.73,213.03 388.79,212.70 C388.85,212.37 388.92,212.03 388.99,211.70 C389.06,211.37 389.13,211.03 389.20,210.70 C389.27,210.37 389.35,210.03 389.43,209.70 C389.51,209.37 389.59,209.03 389.67,208.70 C389.76,208.37 389.84,208.03 389.93,207.70 C390.02,207.37 390.11,207.03 390.21,206.70 C390.30,206.37 390.40,206.03 390.49,205.70 C390.59,205.37 390.69,205.03 390.79,204.70 C390.90,204.37 391.00,204.03 391.11,203.70 C391.22,203.37 391.32,203.03 391.44,202.70 C391.55,202.37 391.66,202.03 391.77,201.70 C391.89,201.37 392.01,201.03 392.13,200.70 C392.24,200.37 392.37,200.03 392.49,199.70 C392.61,199.37 392.74,199.03 392.86,198.70 C392.99,198.37 393.12,198.03 393.25,197.70 C393.38,197.37 393.51,197.03 393.64,196.70 C393.77,196.37 393.91,196.03 394.05,195.70 C394.18,195.37 394.32,195.03 394.46,194.70 C394.60,194.37 394.74,194.03 394.89,193.70 C395.03,193.37 395.17,193.03 395.32,192.70 C395.47,192.37 395.62,192.03 395.77,191.70 C395.92,191.37 396.07,191.03 396.22,190.70 C396.37,190.37 396.53,190.03 396.69,189.70 C396.84,189.37 397.00,189.03 397.16,188.70 C397.32,188.37 397.48,188.03 397.65,187.70 C397.81,187.37 397.97,187.03 398.14,186.70 C398.31,186.37 398.47,186.03 398.64,185.70 C398.81,185.37 398.98,185.03 399.16,184.70 C399.33,184.37 399.50,184.03 399.68,183.70 C399.85,183.37 400.03,183.03 400.21,182.70 C400.39,182.37 400.57,182.03 400.75,181.70 C400.93,181.37 401.12,181.03 401.30,180.70 C401.49,180.37 401.67,180.03 401.86,179.70 C402.05,179.37 402.24,179.03 402.43,178.70 C402.62,178.37 402.81,178.03 403.01,177.70 C403.20,177.37 403.40,177.03 403.60,176.70 C403.79,176.37 403.99,176.03 404.19,175.70 C404.39,175.37 404.59,175.03 404.80,174.70 C405.00,174.37 405.20,174.03 405.41,173.70 C405.62,173.37 405.82,173.03 406.03,172.70 C406.24,172.37 406.45,172.03 406.66,171.70 C406.87,171.37 407.09,171.03 407.30,170.70 C407.52,170.37 407.73,170.03 407.95,169.70 C408.17,169.37 408.39,169.03 408.61,168.70 C408.83,168.37 409.05,168.03 409.27,167.70 C409.49,167.37 409.72,167.03 409.94,166.70 C410.17,166.37 410.40,166.03 410.62,165.70 C410.85,165.37 411.08,165.03 411.31,164.70 C411.54,164.37 411.78,164.03 412.01,163.70 C412.25,163.37 412.48,163.03 412.72,162.70 C412.95,162.37 413.19,162.03 413.43,161.70 C413.67,161.37 413.91,161.03 414.15,160.70 C414.39,160.37 414.64,160.03 414.88,159.70 C415.13,159.37 415.37,159.03 415.62,158.70 C415.87,158.37 416.11,158.03 416.36,157.70 C416.61,157.37 416.87,157.03 417.12,156.70 C417.37,156.37 417.62,156.03 417.88,155.70 C418.14,155.37 418.39,155.03 418.65,154.70 C418.91,154.37 419.17,154.03 419.43,153.70 C419.69,153.37 419.96,153.03 420.22,152.70 C420.48,152.37 420.75,152.03 421.02,151.70 C421.29,151.37 421.56,151.03 421.83,150.70 C422.10,150.37 422.37,150.03 422.64,149.70 C422.92,149.37 423.19,149.03 423.47,148.70 C423.75,148.37 424.03,148.03 424.31,147.70 C424.59,147.37 424.87,147.03 425.16,146.70 C425.44,146.37 425.73,146.03 426.01,145.70 C426.30,145.37 426.59,145.03 426.88,144.70 C427.17,144.37 427.47,144.03 427.76,143.70 C428.06,143.37 428.35,143.03 428.65,142.70 C428.95,142.37 429.25,142.03 429.55,141.70 C429.86,141.37 430.16,141.03 430.47,140.70 C430.77,140.37 431.08,140.03 431.39,139.70 C431.70,139.37 432.01,139.03 432.33,138.70 C432.64,138.37 432.96,138.03 433.27,137.70 C433.59,137.37 433.91,137.03 434.23,136.70 C434.56,136.37 434.88,136.03 435.21,135.70 C435.53,135.37 435.86,135.03 436.19,134.70 C436.52,134.37 436.85,134.03 437.19,133.70 C437.52,133.37 437.86,133.03 438.20,132.70 C438.54,132.37 438.88,132.03 439.22,131.70 C439.56,131.37 439.91,131.03 440.26,130.70 C440.60,130.37 440.95,130.03 441.30,129.70 C441.66,129.37 442.01,129.03 442.37,128.70 C442.72,128.37 443.08,128.03 443.44,127.70 C443.81,127.37 444.17,127.03 444.53,126.70 C444.90,126.37 445.27,126.03 445.64,125.70 C446.01,125.37 446.38,125.03 446.76,124.70 C447.13,124.37 447.51,124.03 447.89,123.70 C448.27,123.37 448.65,123.03 449.04,122.70 C449.42,122.37 449.81,122.03 450.20,121.70 C450.59,121.37 450.98,121.03 451.37,120.70 C451.76,120.37 452.16,120.03 452.55,119.70 C452.95,119.37 453.35,119.03 453.75,118.70 C454.15,118.37 454.55,118.03 454.96,117.70 C455.36,117.37 455.77,117.03 456.18,116.70 C456.58,116.37 456.99,116.03 457.40,115.70 C457.82,115.37 458.23,115.03 458.64,114.70 C459.06,114.37 459.47,114.03 459.89,113.70 C460.31,113.37 460.73,113.03 461.15,112.70 C461.57,112.37 461.99,112.03 462.41,111.70 C462.84,111.37 463.26,111.03 463.69,110.70 C464.11,110.37 464.54,110.03 464.97,109.70 C465.40,109.37 465.82,109.03 466.26,108.70 C466.69,108.37 467.12,108.03 467.55,107.70 C467.98,107.37 468.42,107.03 468.85,106.70 C469.29,106.37 469.72,106.03 470.16,105.70 C470.59,105.37 471.03,105.03 471.47,104.70 C471.91,104.37 472.35,104.03 472.79,103.70 C473.23,103.37 473.67,103.03 474.11,102.70 C474.55,102.37 474.99,102.03 475.43,101.70 C475.87,101.37 476.32,101.03 476.76,100.70 C477.20,100.37 477.65,100.03 478.09,99.70 C478.54,99.37 478.98,99.03 479.43,98.70 C479.87,98.37 480.32,98.03 480.76,97.70 C481.21,97.37 481.65,97.03 482.10,96.70 C482.55,96.37 483.00,96.03 483.44,95.70 C483.89,95.37 484.34,95.03 484.79,94.70 C485.24,94.37 485.69,94.03 486.14,93.70 C486.58,93.37 487.03,93.03 487.49,92.70 C487.94,92.37 488.39,92.03 488.84,91.70 C489.29,91.37 489.74,91.03 490.20,90.70 C490.65,90.37 491.10,90.03 491.56,89.70 C492.01,89.37 492.46,89.03 492.92,88.70 C493.37,88.37 493.83,88.03 494.29,87.70 C494.74,87.37 495.20,87.03 495.65,86.70 C496.11,86.37 496.57,86.03 497.03,85.70 C497.49,85.37 497.95,85.03 498.40,84.70 C498.86,84.37 499.32,84.03 499.79,83.70 C500.25,83.37 500.71,83.03 501.17,82.70 C501.63,82.37 502.09,82.03 502.56,81.70 C503.02,81.37 503.48,81.03 503.95,80.70 C504.41,80.37 504.88,80.03 505.34,79.70 C505.81,79.37 506.28,79.03 506.74,78.70 C507.21,78.37 507.68,78.03 508.15,77.70 C508.62,77.37 509.09,77.03 509.56,76.70 C510.03,76.37 510.50,76.03 510.97,75.70 C511.44,75.37 511.91,75.03 512.38,74.70 C512.86,74.37 513.33,74.03 513.81,73.70 C514.28,73.37 514.75,73.03 515.23,72.70 C515.71,72.37 516.18,72.03 516.66,71.70 C517.14,71.37 517.62,71.03 518.09,70.70 C518.57,70.37 519.05,70.03 519.53,69.70 C520.01,69.37 520.49,69.03 520.98,68.70 C521.46,68.37 521.94,68.03 522.43,67.70 C522.91,67.37 523.39,67.03 523.88,66.70 C524.36,66.37 524.85,66.03 525.34,65.70 C525.82,65.37 526.31,65.03 526.80,64.70 C527.29,64.37 527.78,64.03 528.27,63.70 C528.76,63.37 529.25,63.03 529.74,62.70 C530.23,62.37 530.73,62.03 531.22,61.70 C531.71,61.37 532.21,61.03 532.70,60.70 C533.20,60.37 533.70,60.03 534.19,59.70 C534.69,59.37 535.19,59.03 535.69,58.70 C536.19,58.37 536.69,58.03 537.19,57.70 C537.69,57.37 538.19,57.03 538.70,56.70 C539.20,56.37 539.70,56.03 540.21,55.70 C540.71,55.37 541.22,55.03 541.73,54.70 C542.23,54.37 542.74,54.03 543.25,53.70 C543.76,53.37 544.27,53.03 544.78,52.70 C545.29,52.37 545.80,52.03 546.31,51.70 C546.83,51.37 547.34,51.03 547.85,50.70 C548.37,50.37 548.88,50.03 549.40,49.70 C549.92,49.37 550.44,49.03 550.96,48.70 C551.47,48.37 551.99,48.03 552.52,47.70 C553.04,47.37 553.56,47.03 554.08,46.70 C554.60,46.37 555.13,46.03 555.65,45.70 C556.18,45.37 556.71,45.03 557.23,44.70 C557.76,44.37 558.29,44.03 558.82,43.70 C559.35,43.37 559.88,43.03 560.41,42.70 C560.94,42.37 561.48,42.03 562.01,41.70 C562.54,41.37 563.08,41.03 563.62,40.70 C564.15,40.37 564.69,40.03 565.23,39.70 C565.77,39.37 566.31,39.03 566.85,38.70 C567.39,38.37 567.93,38.03 568.47,37.70 C569.02,37.37 569.56,37.03 570.11,36.70 C570.65,36.37 571.20,36.03 571.75,35.70 C572.30,35.37 572.85,35.03 573.40,34.70 C573.95,34.37 574.50,34.03 575.05,33.70 C575.61,33.37 576.16,33.03 576.72,32.70 C577.27,32.37 577.83,32.03 578.39,31.70 C578.94,31.37 579.50,31.03 580.06,30.70 C580.62,30.37 581.21,30.02 581.75,29.70 C582.28,29.38 583.02,28.95 583.27,28.80" fill="none" stroke="#000" stroke-width="2.15" stroke-linejoin="round" stroke-linecap="butt"/>
<rect x="36.30" y="6.20" width="71.30" height="29.90" fill="#fff" stroke="#707070" stroke-width="1"/>
<line x1="38.0" y1="13.0" x2="58.7" y2="13.0" stroke="#0000ff" stroke-width="1.5"/>
<line x1="38.0" y1="27.3" x2="58.7" y2="27.3" stroke="#000" stroke-width="1.5"/>
<text transform="translate(61.5,16.40) scale(0.95,1)" x="0" y="0" style="font-family:'Liberation Sans',sans-serif;stroke:#000;stroke-width:0.25px;font-size:10.2px">V<tspan style="font-size:6.3px" dy="2.8">Beam</tspan><tspan dy="-2.8">=20V</tspan></text>
<text transform="translate(61.5,30.70) scale(0.95,1)" x="0" y="0" style="font-family:'Liberation Sans',sans-serif;stroke:#000;stroke-width:0.25px;font-size:10.2px">V<tspan style="font-size:6.3px" dy="2.8">Beam</tspan><tspan dy="-2.8">=40V</tspan></text>
<rect x="340.30" y="5.50" width="72.30" height="29.10" fill="#fff" stroke="#a0a0a0" stroke-width="1"/>
<line x1="341.3" y1="12.3" x2="362.6" y2="12.3" stroke="#0000ff" stroke-width="1.5"/>
<line x1="341.3" y1="26.2" x2="362.6" y2="26.2" stroke="#000" stroke-width="1.5"/>
<text transform="translate(365.6,16.00) scale(0.965,1)" x="0" y="0" style="font-family:'Liberation Sans',sans-serif;stroke:#000;stroke-width:0.25px;font-size:10.2px">V<tspan style="font-size:6.3px" dy="2.8">Beam</tspan><tspan dy="-2.8">=20V</tspan></text>
<text transform="translate(365.6,29.90) scale(0.965,1)" x="0" y="0" style="font-family:'Liberation Sans',sans-serif;stroke:#000;stroke-width:0.25px;font-size:10.2px">V<tspan style="font-size:6.3px" dy="2.8">Beam</tspan><tspan dy="-2.8">=40V</tspan></text>
</svg></body></html>
